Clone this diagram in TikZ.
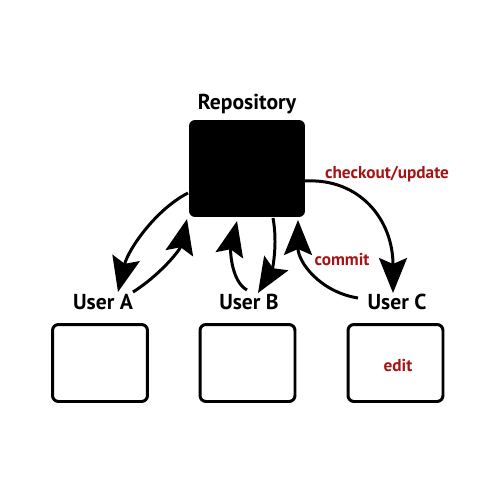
\documentclass[tikz,border=0pt]{standalone}
\usepackage{fontspec}
\setmainfont{PT Sans}
\usetikzlibrary{arrows.meta}
\definecolor{lbl}{RGB}{165,20,20}
\begin{document}
\begin{tikzpicture}[x=0.02cm,y=-0.02cm,
  userbox/.style={draw,line width=1.7pt,rounded corners=0.12cm,minimum width=1.9cm,minimum height=1.54cm,inner sep=0pt},
  flow/.style={line width=1.7pt,-{Stealth[length=0.7cm,width=0.56cm,inset=0.12cm]}},
  title/.style={font=\bfseries\fontsize{12.3}{14}\selectfont},
  note/.style={font=\bfseries\fontsize{9.8}{11}\selectfont,text=lbl}]
\useasboundingbox (0,0) rectangle (500,500);
\node[fill=black,rounded corners=0.12cm,minimum width=2.32cm,minimum height=1.94cm,inner sep=0pt] (repo) at (247,168.5) {};
\node[title] (repolbl) at (247,104) {Repository};
\node[userbox] (ba) at (100,363) {};
\node[userbox] (bb) at (247.5,363) {};
\node[userbox] (bc) at (395.5,363) {};
\node[note] (edit) at (398,365) {edit};
\node[title] (ua) at (103,302) {User A};
\node[title] (ub) at (249,302) {User B};
\node[title] (uc) at (397,302) {User C};
\node[note] (co) at (387,174) {checkout/update};
\node[note] (cm) at (342,259) {commit};
\coordinate (a1s) at (188,193);
\coordinate (a1e) at (118,292);
\coordinate (a2s) at (133,292);
\coordinate (a2e) at (187,219);
\coordinate (b1s) at (247,290);
\coordinate (b1e) at (237,221);
\coordinate (b2s) at (273,218);
\coordinate (b2e) at (258,293);
\coordinate (c1s) at (358,298);
\coordinate (c1e) at (298,220);
\coordinate (c2s) at (305,181);
\coordinate (c2e) at (393,293);
\draw[flow] (a1s) .. controls (155,210) and (128,250) .. (a1e);
\draw[flow] (a2s) .. controls (160,275) and (180,250) .. (a2e);
\draw[flow] (b1s) .. controls (232,282) and (230,252) .. (b1e);
\draw[flow] (b2s) .. controls (278,245) and (272,270) .. (b2e);
\draw[flow] (c1s) .. controls (320,292) and (298,262) .. (c1e);
\draw[flow] (c2s) .. controls (360,178) and (393,220) .. (c2e);
\end{tikzpicture}
\end{document}
